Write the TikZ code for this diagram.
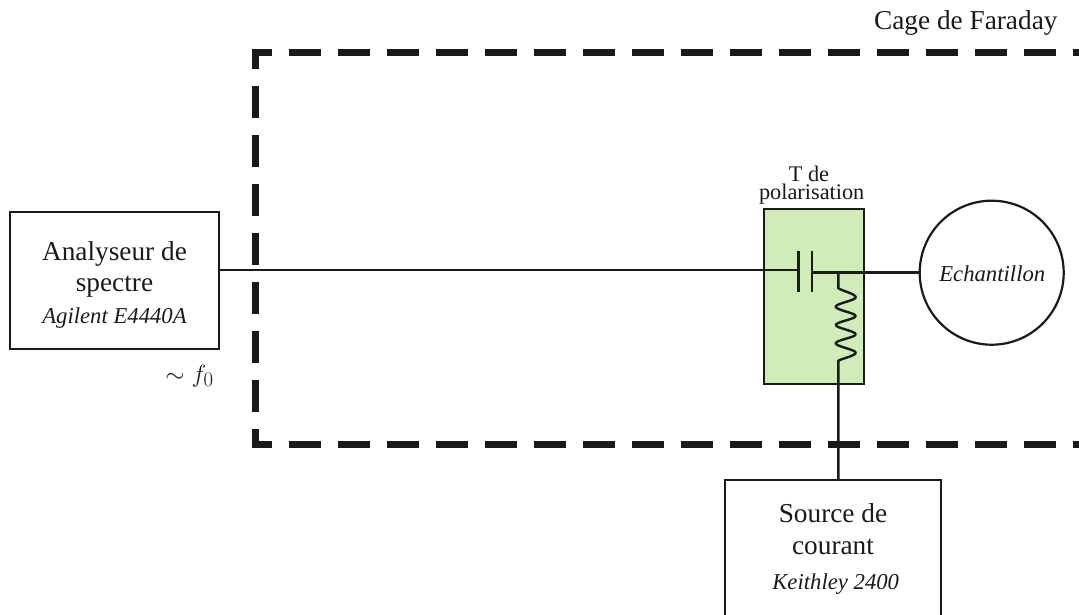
\documentclass[tikz,border=0pt]{standalone}
\usepackage{fontspec}
\setmainfont{Liberation Serif}
\definecolor{tgreen}{HTML}{D0ECB8}
\definecolor{ink}{HTML}{1A1A1A}
\tikzset{
  wire/.style={draw=ink,line width=2.4pt,line join=miter},
  thinwire/.style={draw=ink,line width=2.2pt},
  boxed/.style={draw=ink,line width=2.2pt,fill=white,inner sep=0pt,outer sep=0pt},
  cage/.style={draw=ink,line width=7pt,dash pattern=on 32pt off 17pt,dash phase=25.5pt,line join=miter},
  txt/.style={inner sep=0pt,outer sep=0pt,text=ink,align=center,anchor=base},
  big/.style={font=\fontsize{27.3}{30}\selectfont},
  mid/.style={font=\fontsize{22.7}{26}\selectfont\itshape},
  small/.style={font=\fontsize{22.3}{26}\selectfont},
}
\begin{document}
\begin{tikzpicture}[x=1pt,y=-1pt]
\useasboundingbox (0,0) rectangle (1079,615);
\path[fill=white] (0,0) rectangle (1079,615);
% cage
\coordinate (c1) at (1079,52.5);
\coordinate (c2) at (255.7,52.5);
\coordinate (c3) at (255.7,444);
\coordinate (c4) at (1079,444);
\draw[cage] (c1) -- (c2) -- (c3) -- (c4);
% nodes
\node[boxed,anchor=north west,minimum width=209pt,minimum height=137pt] (ana) at (10,212) {};
\node[boxed,anchor=north west,minimum width=216pt,minimum height=140pt] (src) at (725,480) {};
\node[boxed,fill=tgreen,anchor=north west,minimum width=100pt,minimum height=175pt] (tee) at (764,209.3) {};
\node[circle,draw=ink,line width=2.2pt,fill=white,inner sep=0pt,outer sep=0pt,minimum size=144pt] (ech) at (991.7,272.7) {};
% capacitor
\coordinate (p1) at (798.3,270.2);
\coordinate (p2) at (812,272.5);
\coordinate (j) at (838.3,272.5);
\coordinate (r1) at (838.3,288.3);
\coordinate (r2) at (838.3,360.7);
\draw[thinwire] (ana.east |- p1) -- (p1);
\draw[wire] (798.3,251) -- (798.3,291.7);
\draw[wire] (812,251) -- (812,291.7);
\draw[wire] (p2) -- (ech.west |- p2);
% resistor
\draw[wire,line join=round] (j) -- (r1)
  .. controls (844,291.5) and (855.7,294) .. (855.7,297.3)
  .. controls (855.7,300.5) and (835.7,303.5) .. (835.7,306.7)
  .. controls (835.7,310) and (855.7,313) .. (855.7,316)
  .. controls (855.7,319) and (835.7,322) .. (835.7,325)
  .. controls (835.7,328) and (855.7,331) .. (855.7,334.3)
  .. controls (855.7,337.5) and (835.7,340) .. (835.7,343.3)
  .. controls (835.7,346.5) and (855.7,349.5) .. (855.7,352.7)
  .. controls (855.7,355.5) and (844,358) .. (r2)
  -- (src.north -| r2);
% labels
\node[txt,big] (la) at (114.5,260) {Analyseur de};
\node[txt,big] (lb) at (114.5,291) {spectre};
\node[txt,mid] (lc) at (114.5,323) {Agilent E4440A};
\node[txt,font=\fontsize{29}{32}\selectfont] (ld) at (189.5,382) {$\sim f_0$};
\node[txt,big] (le) at (833,522) {Source de};
\node[txt,big] (lf) at (833,554) {courant};
\node[txt,mid] (lg) at (835.7,589) {Keithley 2400};
\node[txt,small] (lh) at (809,181.5) {T de};
\node[txt,small] (lk) at (811.7,199.8) {polarisation};
\node[txt,mid] (li) at (992.3,281.7) {Echantillon};
\node[txt,big,anchor=base east] (lj) at (1057.5,29.5) {Cage de Faraday};
\end{tikzpicture}
\end{document}
